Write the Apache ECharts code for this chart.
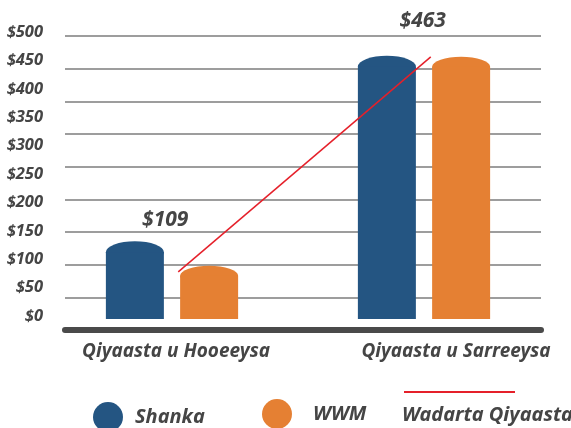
<!DOCTYPE html>
<html>
<head>
<meta charset="utf-8">
<script src="https://cdn.jsdelivr.net/npm/echarts@6/dist/echarts.min.js"></script>
<style>
  html, body { margin: 0; padding: 0; background: #fff; }
  #chart { width: 571px; height: 428px; }
</style>
</head>
<body>
<div id="chart"></div>
<script>
// values (bars are drawn on the hidden bar axis)
const categories = ['Qiyaasta u Hooeeysa', 'Qiyaasta u Sarreeysa']
const shanka = [102, 386]
const wwm = [66, 386]
const average = [72, 401]
const averageLabels = ['$109', '$463']
const yTicks = [0, 50, 100, 150, 200, 250, 300, 350, 400, 450, 500]

const BLUE = '#245582'
const ORANGE = '#e58033'
const RED = '#e5202a'
const TEXT = '#454545'
const FONT = '"Noto Sans", "Open Sans", sans-serif'

const labelOffsets = [[-13, -52], [-8, -36]]

const chart = echarts.init(document.getElementById('chart'))

const hiddenX = i => ({ gridIndex: i, type: 'category', data: categories, show: false })
const hiddenY = i => ({ gridIndex: i, type: 'value', min: -17, max: 433, show: false })

const boldItalic = size => ({
  color: TEXT,
  fontFamily: FONT,
  fontSize: size,
  fontStyle: 'italic',
  fontWeight: 'bold'
})

const barCommon = {
  xAxisIndex: 1,
  yAxisIndex: 1,
  barWidth: 58,
  barGap: '28%',
  silent: true
}

const option = {
  animation: false,
  textStyle: { fontFamily: FONT },
  grid: [
    { left: 65, right: 30, top: 36, bottom: 98 },   // gridlines + axis line
    { left: 46, right: 21, top: 36, bottom: 98 },   // bars
    { left: 65, right: 30, top: 32, bottom: 112 },  // y labels
    { left: 52, right: 14, top: 36, bottom: 98 },   // average line
    { left: 176, right: 115, top: 36, bottom: 98 }  // x labels (labels sit on the edges)
  ],
  xAxis: [
    {
      gridIndex: 0,
      type: 'category',
      data: categories,
      axisLine: { lineStyle: { color: '#4a4a4a', width: 6 } },
      axisTick: { show: false },
      axisLabel: { show: false }
    },
    hiddenX(1),
    { gridIndex: 2, type: 'category', data: categories, show: false },
    hiddenX(3),
    {
      gridIndex: 4,
      type: 'category',
      data: categories,
      boundaryGap: false,
      axisLine: { show: false },
      axisTick: { show: false },
      axisLabel: { margin: 12, ...boldItalic(19) }
    }
  ],
  yAxis: [
    {
      // decorative gridlines, 9 bands above the axis line
      gridIndex: 0,
      type: 'value',
      min: 0,
      max: 450,
      interval: 50,
      axisLine: { show: false },
      axisTick: { show: false },
      axisLabel: { show: false },
      splitLine: { lineStyle: { color: '#7d7d7d', width: 1.5 } }
    },
    hiddenY(1),
    {
      gridIndex: 2,
      type: 'value',
      min: yTicks[0],
      max: yTicks[yTicks.length - 1],
      interval: yTicks[1] - yTicks[0],
      axisLine: { show: false },
      axisTick: { show: false },
      splitLine: { show: false },
      axisLabel: { margin: 22, ...boldItalic(16.5), formatter: v => '$' + v }
    },
    hiddenY(3),
    { gridIndex: 4, type: 'value', show: false }
  ],
  legend: [
    {
      data: ['Shanka'],
      left: 93, top: 402, padding: 0,
      icon: 'circle', itemWidth: 30, itemHeight: 30,
      selectedMode: false,
      textStyle: { ...boldItalic(20), padding: [0, 0, 8, 7] }
    },
    {
      data: ['WWM'],
      left: 262, top: 399, padding: 0,
      icon: 'circle', itemWidth: 30, itemHeight: 30,
      selectedMode: false,
      textStyle: { ...boldItalic(20), padding: [0, 0, 2, 16] }
    },
    {
      data: ['Wadarta Qiyaasta'],
      left: 404, top: 391, padding: 0,
      icon: 'rect', itemWidth: 111, itemHeight: 2,
      selectedMode: false,
      formatter: () => '',
      textStyle: { fontSize: 2, lineHeight: 2 }
    },
    {
      data: ['Wadarta Qiyaasta'],
      left: 397, top: 403, padding: 0,
      icon: 'none', itemWidth: 0, itemHeight: 24,
      selectedMode: false,
      textStyle: boldItalic(20)
    }
  ],
  series: [
    { ...barCommon, name: 'Shanka', type: 'bar', data: shanka, itemStyle: { color: BLUE } },
    { ...barCommon, name: 'WWM', type: 'bar', data: wwm, itemStyle: { color: ORANGE } },
    {
      ...barCommon, name: 'Shanka', type: 'pictorialBar', data: shanka,
      symbol: 'circle', symbolSize: [58, 22], symbolPosition: 'end', symbolOffset: [0, '-50%'],
      itemStyle: { color: BLUE }
    },
    {
      ...barCommon, name: 'WWM', type: 'pictorialBar', data: wwm,
      symbol: 'circle', symbolSize: [58, 20], symbolPosition: 'end', symbolOffset: [0, '-50%'],
      itemStyle: { color: ORANGE }
    },
    {
      name: 'Wadarta Qiyaasta',
      type: 'line',
      xAxisIndex: 3,
      yAxisIndex: 3,
      silent: true,
      symbol: 'circle',
      symbolSize: 0,
      itemStyle: { color: RED },
      lineStyle: { color: RED, width: 1.5 },
      data: average.map((v, i) => ({
        value: v,
        label: {
          show: true,
          position: 'inside',
          offset: labelOffsets[i],
          formatter: averageLabels[i],
          ...boldItalic(21)
        }
      }))
    }
  ]
}

chart.setOption(option)
</script>
</body>
</html>
